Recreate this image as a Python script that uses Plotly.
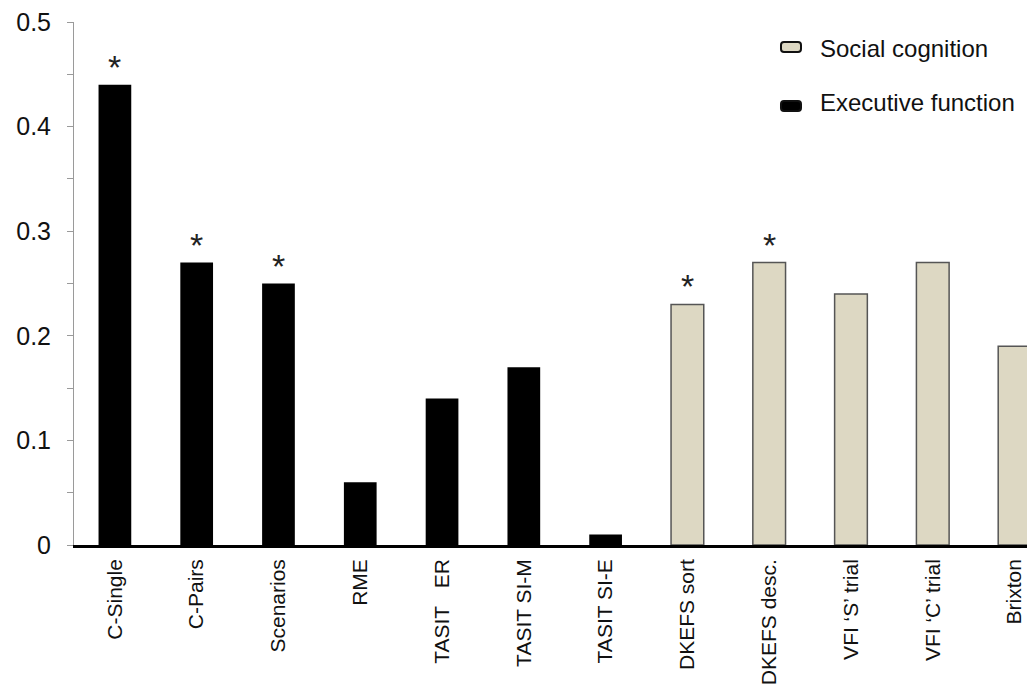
import plotly.graph_objects as go

categories = ["C-Single", "C-Pairs", "Scenarios", "RME", "TASIT\u00a0\u00a0\u00a0ER", "TASIT SI-M",
              "TASIT SI-E", "DKEFS sort", "DKEFS desc.", "VFI \u2018S\u2019 trial", "VFI \u2018C\u2019 trial", "Brixton"]
values = [0.44, 0.27, 0.25, 0.06, 0.14, 0.17, 0.01, 0.23, 0.27, 0.24, 0.27, 0.19]
groups = ["exec"] * 7 + ["social"] * 5
starred = [True, True, True, False, False, False, False, True, True, False, False, False]
legend_names = ["Social cognition", "Executive function"]

FONT = "Liberation Sans, Arial, sans-serif"
BEIGE = "#DDD8C3"
EDGE = "#555555"

W, H = 1027, 685
ML, MR, MT, MB = 66, 0, 14, 148
PW, PH = W - ML - MR, H - MT - MB

exec_x = [c for c, g in zip(categories, groups) if g == "exec"]
exec_y = [v for v, g in zip(values, groups) if g == "exec"]
soc_x = [c for c, g in zip(categories, groups) if g == "social"]
soc_y = [v for v, g in zip(values, groups) if g == "social"]

fig = go.Figure()
fig.add_trace(go.Bar(x=soc_x, y=soc_y, name=legend_names[0], width=0.4,
                     marker=dict(color=BEIGE, line=dict(color=EDGE, width=1.5)),
                     showlegend=False))
fig.add_trace(go.Bar(x=exec_x, y=exec_y, name=legend_names[1], width=0.4,
                     marker=dict(color="#000000", line=dict(color="#000000", width=0)),
                     showlegend=False))

for c, v, s in zip(categories, values, starred):
    if s:
        fig.add_annotation(x=c, y=v, text="*", showarrow=False, yanchor="bottom",
                           yshift=-3, font=dict(family=FONT, size=34, color="#222222"))


def px2paper(fx, fy):
    return (fx - ML) / PW, (MT + PH - fy) / PH


def rounded_rect(x0, y0, x1, y1, r):
    p = lambda x, y: "%.5f,%.5f" % px2paper(x, y)
    return ("M " + p(x0 + r, y0) + " L " + p(x1 - r, y0) + " Q " + p(x1, y0) + " " + p(x1, y0 + r) +
            " L " + p(x1, y1 - r) + " Q " + p(x1, y1) + " " + p(x1 - r, y1) +
            " L " + p(x0 + r, y1) + " Q " + p(x0, y1) + " " + p(x0, y1 - r) +
            " L " + p(x0, y0 + r) + " Q " + p(x0, y0) + " " + p(x0 + r, y0) + " Z")


legend_fill = [BEIGE, "#000000"]
icon_rows = [39, 98]
text_rows = [41, 94.5]
for name, fill, cy, ty_px in zip(legend_names, legend_fill, icon_rows, text_rows):
    fig.add_shape(type="path", xref="paper", yref="paper",
                  path=rounded_rect(773, cy - 5, 793, cy + 5, 3),
                  fillcolor=fill, line=dict(color="#111111", width=2))
    tx, ty = px2paper(810, ty_px)
    fig.add_annotation(x=tx, y=ty, xref="paper", yref="paper", text=name, showarrow=False,
                       xanchor="left", yanchor="middle",
                       font=dict(family=FONT, size=24, color="#111111"))

fig.update_layout(
    width=W, height=H,
    margin=dict(l=ML, r=MR, t=MT, b=MB),
    paper_bgcolor="white", plot_bgcolor="white",
    barmode="overlay",
    font=dict(family=FONT, color="#111111"),
    showlegend=False,
    xaxis=dict(categoryorder="array", categoryarray=categories, range=[-0.5, 11.25],
               showline=True, linecolor="#000000", linewidth=2.5, ticks="",
               tickangle=-90, tickfont=dict(family=FONT, size=21, color="#111111"),
               ticklabelstandoff=3, showgrid=False, zeroline=False),
    yaxis=dict(range=[0, 0.5], tickvals=[0, 0.1, 0.2, 0.3, 0.4, 0.5],
               ticktext=["0", "0.1", "0.2", "0.3", "0.4", "0.5"],
               showline=True, linecolor="#9a9a9a", linewidth=1,
               ticks="outside", ticklen=6, tickcolor="#9a9a9a",
               minor=dict(dtick=0.05, ticks="outside", ticklen=6, tickcolor="#9a9a9a", showgrid=False),
               tickfont=dict(family=FONT, size=25, color="#111111"),
               ticklabeloverflow="allow",
               ticklabelstandoff=11, showgrid=False, zeroline=False),
)

fig.write_html("out.html")
